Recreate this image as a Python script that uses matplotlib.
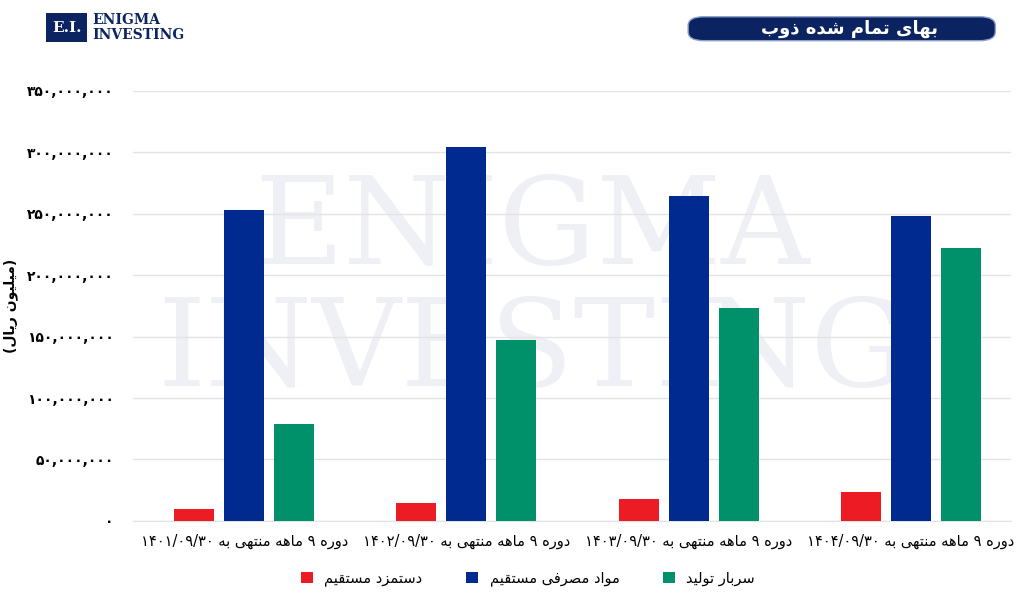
import matplotlib.pyplot as plt
from matplotlib.patches import FancyBboxPatch, Rectangle

# simple Persian shaping (matplotlib has no RTL / joining support)
FORMS = {
    'ا': ('\uFE8D', '\uFE8E', None, None), 'ب': ('\uFE8F', '\uFE90', '\uFE91', '\uFE92'),
    'ت': ('\uFE95', '\uFE96', '\uFE97', '\uFE98'), 'د': ('\uFEA9', '\uFEAA', None, None),
    'ذ': ('\uFEAB', '\uFEAC', None, None), 'ر': ('\uFEAD', '\uFEAE', None, None),
    'ز': ('\uFEAF', '\uFEB0', None, None), 'س': ('\uFEB1', '\uFEB2', '\uFEB3', '\uFEB4'),
    'ش': ('\uFEB5', '\uFEB6', '\uFEB7', '\uFEB8'), 'ص': ('\uFEB9', '\uFEBA', '\uFEBB', '\uFEBC'),
    'ف': ('\uFED1', '\uFED2', '\uFED3', '\uFED4'), 'ق': ('\uFED5', '\uFED6', '\uFED7', '\uFED8'),
    'ل': ('\uFEDD', '\uFEDE', '\uFEDF', '\uFEE0'), 'م': ('\uFEE1', '\uFEE2', '\uFEE3', '\uFEE4'),
    'ن': ('\uFEE5', '\uFEE6', '\uFEE7', '\uFEE8'), 'ه': ('\uFEE9', '\uFEEA', '\uFEEB', '\uFEEC'),
    'و': ('\uFEED', '\uFEEE', None, None), 'ی': ('\uFBFC', '\uFBFD', '\uFBFE', '\uFBFF'),
}
LTR = set('۰۱۲۳۴۵۶۷۸۹/0123456789,')


def fa(text):
    out = []
    for i, c in enumerate(text):
        if c not in FORMS:
            out.append(c)
            continue
        prev = text[i - 1] if i > 0 else ''
        nxt = text[i + 1] if i + 1 < len(text) else ''
        jp = prev in FORMS and FORMS[prev][2] is not None
        jn = nxt in FORMS and FORMS[c][2] is not None
        iso, fin, ini, med = FORMS[c]
        if jp and jn:
            out.append(med)
        elif jp:
            out.append(fin)
        elif jn:
            out.append(ini)
        else:
            out.append(iso)
    # visual reorder: reverse runs, keep number runs LTR
    runs, cur, cur_ltr = [], '', None
    for c in out:
        l = c in LTR
        if cur and l != cur_ltr:
            runs.append((cur, cur_ltr))
            cur = ''
        cur += c
        cur_ltr = l
    if cur:
        runs.append((cur, cur_ltr))
    mirror = {'(': ')', ')': '('}
    res = ''
    for r, l in reversed(runs):
        res += r if l else ''.join(mirror.get(ch, ch) for ch in reversed(r))
    return res


def fa_num(v):
    s = f"{v:,}"
    return s.translate(str.maketrans('0123456789', '۰۱۲۳۴۵۶۷۸۹'))


plt.rcParams['font.family'] = ['DejaVu Sans', 'Noto Sans']

periods = ['دوره ۹ ماهه منتهی به ۱۴۰۱/۰۹/۳۰', 'دوره ۹ ماهه منتهی به ۱۴۰۲/۰۹/۳۰',
           'دوره ۹ ماهه منتهی به ۱۴۰۳/۰۹/۳۰', 'دوره ۹ ماهه منتهی به ۱۴۰۴/۰۹/۳۰']
wages = [10_000_000, 14_500_000, 18_000_000, 23_500_000]
materials = [253_000_000, 304_000_000, 264_500_000, 248_000_000]
overhead = [79_000_000, 147_000_000, 173_000_000, 222_000_000]
series_names = ['دستمزد مستقیم', 'مواد مصرفی مستقیم', 'سربار تولید']
colors = ['#ED1C24', '#002A8F', '#00906A']
yticks = list(range(0, 350_000_001, 50_000_000))

fig = plt.figure(figsize=(10.24, 5.98), dpi=100)
ax = fig.add_axes([0.13, 0.129, 0.857, 0.719])
ax.set_facecolor('none')

# watermark (behind bars)
for txt, yy in [('ENIGMA', 0.615), ('INVESTING', 0.41)]:
    ax.text(0.52, yy, txt, fontsize=88, family='DejaVu Serif', color='#EEF0F5',
            ha='center', va='center', transform=fig.transFigure, zorder=1)

x = list(range(len(periods)))
w = 0.18
for k, vals in enumerate([wages, materials, overhead]):
    ax.bar([i + (k - 1) * 0.225 for i in x], vals, w, color=colors[k], zorder=3,
           label=fa(series_names[k]))

ax.set_xlim(-0.5, 3.45)
ax.set_ylim(0, 350_000_000)
ax.set_yticks(yticks)
ax.set_yticklabels([fa_num(v) for v in yticks], fontsize=10, weight='bold')
ax.set_xticks(x)
ax.set_xticklabels([fa(p) for p in periods], fontsize=10.5)
ax.grid(axis='y', color='#E3E3E3', lw=1, zorder=0)
for s in ['top', 'right', 'left']:
    ax.spines[s].set_visible(False)
ax.spines['bottom'].set_color('#E3E3E3')
ax.tick_params(axis='y', length=0, pad=14)
ax.tick_params(axis='x', length=0, pad=9)
ax.set_ylabel(fa('(میلیون ریال)'), fontsize=10, weight='bold', labelpad=6)

ax.legend(loc='upper center', bbox_to_anchor=(0.45, -0.085), ncol=3, frameon=False,
          fontsize=10.5, handlelength=0.8, handleheight=0.8, columnspacing=3)

# title pill
fig.patches.append(FancyBboxPatch((0.672, 0.932), 0.3, 0.04, boxstyle='round,pad=0,rounding_size=0.015',
                                  transform=fig.transFigure, fc='#0B2461', ec='#8FA0C8', lw=1))
fig.text(0.83, 0.952, fa('بهای تمام شده ذوب'), color='white', fontsize=13, weight='bold',
         ha='center', va='center')

# logo
fig.patches.append(Rectangle((0.045, 0.93), 0.04, 0.048, transform=fig.transFigure, fc='#0B2461'))
fig.text(0.065, 0.954, 'E.I.', color='white', fontsize=11, family='DejaVu Serif', weight='bold',
         ha='center', va='center')
fig.text(0.09, 0.966, 'ENIGMA', color='#0B2461', fontsize=10, family='DejaVu Serif', weight='bold',
         va='center')
fig.text(0.09, 0.942, 'INVESTING', color='#0B2461', fontsize=10, family='DejaVu Serif', weight='bold',
         va='center')

plt.savefig('out.png')
